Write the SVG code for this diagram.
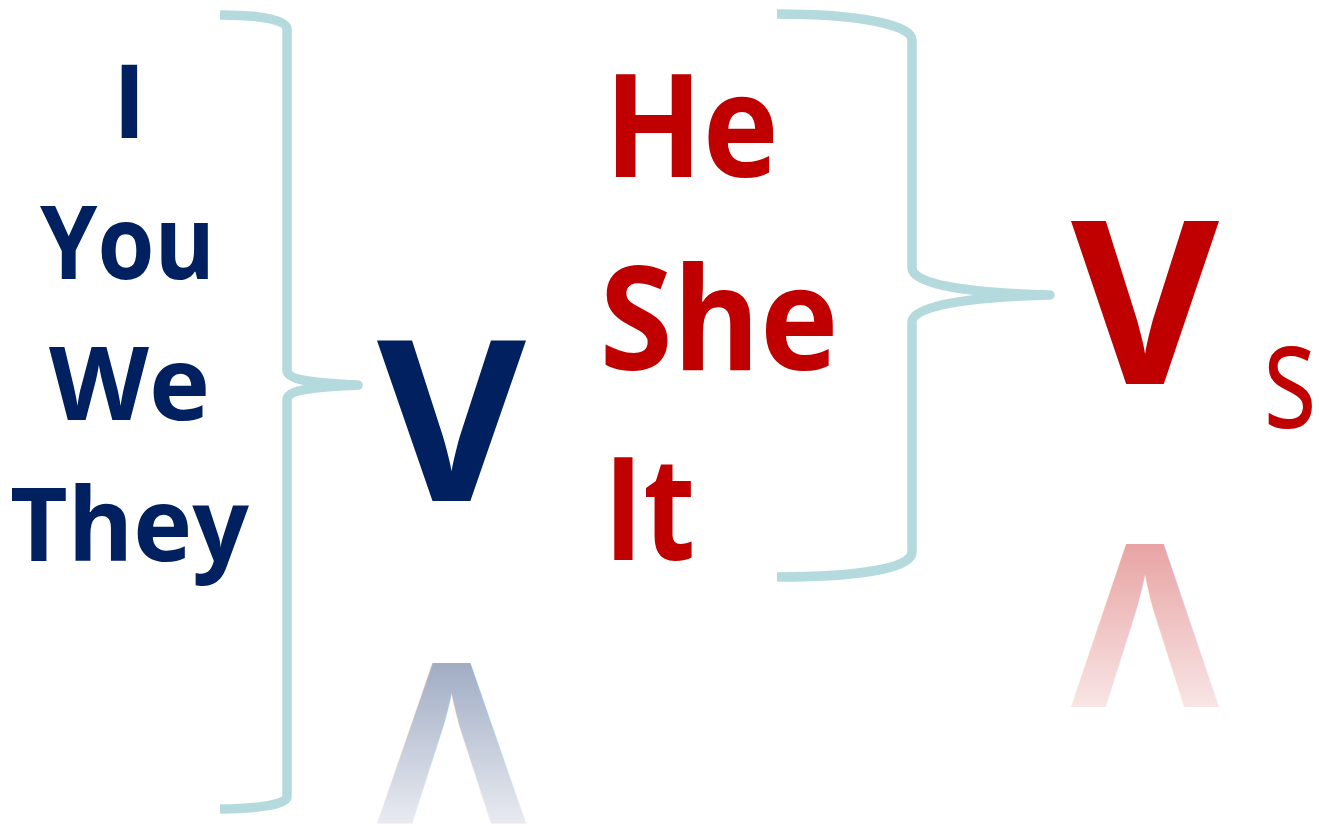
<svg xmlns="http://www.w3.org/2000/svg" width="1319" height="826" viewBox="0 0 1319 826">
  <style>
    .blue { fill: #002060; font-family: "Open Sans", "Noto Sans", sans-serif; font-weight: bold; text-anchor: middle; }
    .red { fill: #C00000; font-family: "Open Sans", "Noto Sans", sans-serif; font-weight: bold; text-anchor: middle; }
    .brace { fill: none; stroke: #B4DADD; stroke-width: 9.5; stroke-linejoin: round; stroke-linecap: butt; }
  </style>
  <defs>
    <linearGradient id="blueFade" gradientUnits="userSpaceOnUse" x1="0" y1="340" x2="0" y2="501">
      <stop offset="0" stop-color="#002060" stop-opacity="0.09"/>
      <stop offset="1" stop-color="#002060" stop-opacity="0.37"/>
    </linearGradient>
    <linearGradient id="redFade" gradientUnits="userSpaceOnUse" x1="0" y1="220" x2="0" y2="384">
      <stop offset="0" stop-color="#C00000" stop-opacity="0.1"/>
      <stop offset="1" stop-color="#C00000" stop-opacity="0.36"/>
    </linearGradient>
  </defs>
  <rect width="1319" height="826" fill="#ffffff"/>

  <g id="connectors">
    <path class="brace" d="M220,15 C258,15 287,19 287,29 L287,370 C287,380 312,383 358,385 C312,387 287,390 287,400 L287,797 C287,804 258,809 220,809"/>
    <path class="brace" d="M777,14 C860,14 912,25 912,40 L912,268 C912,284 965,293 1050,295 C965,297 912,306 912,322 L912,552 C912,568 860,577 777,577"/>
  </g>

  <g id="node-I"><text class="blue" x="129.5" y="138" font-size="102">I</text></g>
  <g id="node-You"><text class="blue" x="127.5" y="279" font-size="102" textLength="175" lengthAdjust="spacingAndGlyphs">You</text></g>
  <g id="node-We"><text class="blue" x="129.5" y="420" font-size="102" textLength="161" lengthAdjust="spacingAndGlyphs">We</text></g>
  <g id="node-They"><text class="blue" x="129.5" y="561" font-size="102" textLength="239" lengthAdjust="spacingAndGlyphs">They</text></g>

  <g id="node-V-blue">
    <text class="blue" x="451.5" y="501" font-size="224" textLength="149" lengthAdjust="spacingAndGlyphs">V</text>
    <text class="blue" x="451.5" y="501" font-size="224" textLength="149" lengthAdjust="spacingAndGlyphs" transform="translate(0,1164) scale(1,-1)" style="fill:url(#blueFade)">V</text>
  </g>

  <g id="node-He"><text class="red" x="691.5" y="177" font-size="143" textLength="174" lengthAdjust="spacingAndGlyphs">He</text></g>
  <g id="node-She"><text class="red" x="719" y="370" font-size="143" textLength="239" lengthAdjust="spacingAndGlyphs">She</text></g>
  <g id="node-It"><text class="red" x="649.5" y="560" font-size="143" textLength="92" lengthAdjust="spacingAndGlyphs">It</text></g>

  <g id="node-V-red">
    <text class="red" x="1145" y="384" font-size="228" textLength="148" lengthAdjust="spacingAndGlyphs">V</text>
    <text class="red" x="1145" y="384" font-size="228" textLength="148" lengthAdjust="spacingAndGlyphs" transform="translate(0,928) scale(1,-1)" style="fill:url(#redFade)">V</text>
  </g>

  <g id="node-s"><text x="1290" y="428" font-size="151" fill="#C00000" font-family="Open Sans, Noto Sans, sans-serif" text-anchor="middle" textLength="54" lengthAdjust="spacingAndGlyphs">s</text></g>
</svg>
